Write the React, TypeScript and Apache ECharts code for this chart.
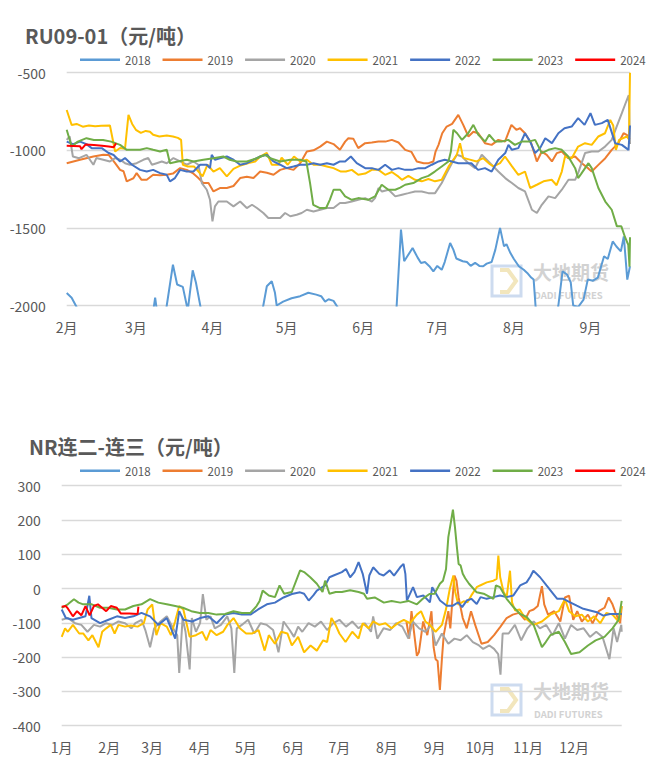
import React, { useEffect, useRef } from "react";
import * as echarts from "echarts";

const YEARS = ["2018", "2019", "2020", "2021", "2022", "2023", "2024"];
const COLORS = ["#5B9BD5", "#ED7D31", "#A5A5A5", "#FFC000", "#4472C4", "#70AD47", "#FF0000"];

// ---------- Top chart: RU09-01, x = days since 1 Feb ----------
const RU_TITLE = "RU09-01（元/吨）";
const RU_MONTH_DAYS = [0, 28, 59, 89, 120, 150, 181, 212];
const RU_MONTH_LABELS = ["2月", "3月", "4月", "5月", "6月", "7月", "8月", "9月"];
const RU_MIN = -2000, RU_MAX = -500, RU_STEP = 500, RU_DAYS = 228;

const RU_2018 = [[0,-1920],[2,-1950],[4,-2010],[6,-2150],[20,-2250],[34,-2150],[35.8,-1950],[37.5,-2150],[39.5,-2100],[40.5,-2000],[43,-1737],[44.7,-1865],[47,-1880],[49,-2030],[51,-1773],[52.3,-1852],[55,-2080],[58,-2250],[75,-2250],[79,-2050],[81,-1876],[83,-1844],[84.3,-1918],[85,-2000],[87.6,-1975],[91,-1953],[94.5,-1940],[97.8,-1918],[101,-1930],[103,-1940],[104.6,-1975],[106,-1960],[108,-1970],[109.6,-2010],[112,-2150],[130,-2250],[133.2,-2100],[135.3,-1511],[136.6,-1715],[138,-1680],[140,-1630],[142,-1690],[143.4,-1726],[145,-1720],[146.8,-1747],[148.4,-1780],[150,-1745],[151.8,-1770],[153,-1720],[155.2,-1597],[156.5,-1640],[157.7,-1697],[160.3,-1715],[162,-1720],[163.5,-1745],[165.3,-1725],[167,-1745],[168.6,-1747],[170,-1730],[172,-1720],[173.5,-1640],[175.4,-1500],[177,-1619],[178,-1605],[179.6,-1662],[181,-1700],[183,-1747],[185,-1770],[186.4,-1790],[188,-1820],[189,-1833],[189.8,-2010],[192,-2200],[197,-2200],[199,-2000],[200.7,-1780],[202.5,-1800],[204,-1850],[205,-2000],[207,-2010],[209.2,-1962],[210.9,-1833],[213,-1840],[215,-1820],[217.5,-1683],[219,-1700],[221,-1587],[222.5,-1620],[224.3,-1651],[225.5,-1555],[226.9,-1833],[228,-1747]];
const RU_2019 = [[0,-1083],[5.4,-1061],[10.8,-1040],[14.8,-1029],[17,-1030],[19.6,-1083],[21.6,-1126],[23,-1135],[24.3,-1200],[25.6,-1190],[27,-1180],[28.3,-1147],[30.3,-1190],[32.4,-1190],[35,-1158],[37.8,-1160],[40.5,-1158],[43,-1150],[45.9,-1115],[48.6,-1126],[51,-1147],[53.3,-1179],[55.3,-1211],[57.4,-1211],[59.4,-1265],[62,-1243],[64.8,-1243],[67.5,-1230],[70.2,-1179],[72.9,-1170],[75.6,-1179],[78.3,-1137],[81,-1145],[83.7,-1158],[86.4,-1126],[89,-1115],[91.8,-1126],[94.5,-1083],[97.2,-1008],[99.9,-1000],[102.6,-976],[105.3,-944],[108,-960],[110.6,-997],[112.7,-944],[114,-922],[116,-925],[118,-986],[120.8,-954],[123.5,-950],[126.2,-944],[129,-944],[131.6,-933],[134.3,-950],[137,-997],[139.5,-1010],[141.7,-1072],[144.5,-1083],[146.5,-1083],[148.4,-1072],[149.3,-1008],[150.5,-965],[152,-890],[153.8,-847],[156,-830],[158.5,-772],[160.5,-836],[162.6,-911],[164.6,-880],[166.6,-890],[169.3,-954],[172,-965],[174.7,-933],[177.4,-944],[180,-836],[182,-868],[183.5,-858],[185.5,-890],[188,-954],[190.3,-1072],[192.3,-1008],[194.3,-1029],[196.4,-1072],[198.4,-1018],[200.4,-1008],[203,-1051],[205.8,-1040],[208.5,-1083],[211,-1115],[212.5,-1137],[215.2,-1094],[218,-1051],[220.6,-997],[223.3,-954],[225.4,-890],[226.7,-900],[228,-930]];
const RU_2020 = [[0,-933],[1.2,-911],[2.5,-1040],[5,-1051],[8,-1029],[10.8,-1093],[12,-1050],[14.8,-1061],[17.5,-1072],[19.6,-1050],[21.6,-1061],[23.6,-1083],[25.6,-1093],[28.3,-1083],[31,-1061],[33,-1050],[34.5,-1093],[36.4,-1083],[38.5,-1072],[40.5,-1083],[43.2,-1050],[45.9,-1072],[48.6,-1093],[51.3,-1072],[53.3,-1093],[54.7,-1211],[56.7,-1254],[58,-1319],[59,-1458],[60,-1361],[61.4,-1330],[64.8,-1330],[67.5,-1361],[70.2,-1330],[72.9,-1372],[75,-1351],[77,-1372],[79.6,-1404],[81.6,-1436],[84,-1436],[86.4,-1436],[88.4,-1404],[90.5,-1425],[93.1,-1415],[95.1,-1404],[97.2,-1383],[99.9,-1394],[102.6,-1383],[105.3,-1372],[108,-1372],[110.6,-1340],[112.7,-1340],[115.4,-1330],[118,-1319],[120.8,-1308],[123.5,-1330],[124.8,-1308],[126.2,-1243],[127.6,-1265],[130.3,-1254],[133,-1297],[135.7,-1286],[138.3,-1276],[141,-1265],[143.7,-1265],[146.4,-1276],[149.1,-1276],[151.8,-1211],[153.8,-1147],[155.9,-1083],[157.9,-1029],[160,-1040],[162.6,-1083],[165.3,-1115],[168,-1029],[170.7,-1072],[172.7,-1104],[174.7,-1137],[177.5,-1179],[180.2,-1211],[182.8,-1243],[185.5,-1265],[188.3,-1383],[190.3,-1404],[192.3,-1351],[195,-1297],[197.7,-1308],[200.4,-1254],[203.1,-1190],[205.8,-1190],[207,-1147],[209.8,-1018],[212.5,-1008],[215.2,-1008],[217.9,-976],[220.6,-933],[222.6,-847],[224.7,-761],[226.7,-676],[227.5,-645],[228,-960]];
const RU_2021 = [[0,-740],[2,-837],[4,-830],[6.5,-848],[9,-840],[11.5,-845],[14,-842],[17.5,-840],[19.6,-1008],[21.6,-985],[23.6,-990],[25,-772],[26.5,-830],[28,-868],[30,-888],[32,-875],[33.7,-880],[35,-900],[37.5,-911],[40.5,-905],[43,-911],[45,-920],[46.3,-933],[47,-1093],[49,-1104],[51.5,-1104],[53.5,-1140],[55,-1168],[57,-1093],[59.4,-1137],[62,-1115],[64.8,-1168],[67.5,-1120],[70,-1100],[72,-1090],[74,-1081],[76.3,-1072],[78.3,-1040],[79.6,-1029],[81,-1016],[83,-1093],[85.7,-1093],[87,-1048],[89.5,-1093],[92,-1040],[94.5,-1072],[97.2,-1061],[99.9,-1093],[102.6,-1093],[105.3,-1104],[108,-1115],[111,-1137],[113,-1137],[115.4,-1126],[118,-1158],[120.8,-1150],[123.5,-1126],[126.2,-1126],[128.9,-1158],[131.6,-1140],[134.3,-1170],[135.7,-1190],[138.3,-1165],[141,-1190],[143.7,-1200],[146.4,-1185],[149.1,-1200],[151.8,-1190],[154.6,-1104],[157.9,-1029],[159.2,-954],[160.5,-1049],[163.2,-1060],[165.9,-1072],[168.6,-1051],[171.3,-1090],[172.7,-1104],[175.4,-1083],[177.4,-1040],[180.1,-1100],[182.8,-1158],[185.5,-1137],[187.6,-1243],[190.3,-1222],[193,-1200],[196.3,-1190],[198.3,-1225],[200.4,-1137],[201.7,-1040],[204.4,-1051],[207,-976],[209.8,-954],[212.5,-965],[215.2,-911],[217.9,-890],[220,-804],[221.2,-840],[222.3,-997],[223.6,-933],[226.7,-911],[227.6,-930],[228,-500]];
const RU_2022 = [[0,-944],[2.6,-960],[5.4,-944],[8,-960],[10.1,-986],[12.1,-986],[14.2,-986],[16.8,-1016],[19,-1030],[21.6,-1072],[23.6,-1050],[26.4,-1093],[29.7,-1126],[32.4,-1137],[35,-1126],[37.8,-1147],[40.5,-1158],[41.8,-1200],[43.8,-1179],[45.9,-1126],[48.6,-1137],[51.3,-1137],[54,-1093],[56.7,-1093],[58,-1115],[58.7,-1029],[60,-1061],[62,-1051],[64.8,-1040],[67.5,-1061],[70.2,-1093],[72.9,-1083],[75.6,-1061],[78.3,-1040],[81,-1029],[83.7,-1072],[86.4,-1093],[89,-1115],[91.8,-1104],[94.5,-1093],[97.2,-1093],[99.9,-1083],[102.6,-1093],[105.3,-1083],[108,-1093],[110.6,-1072],[112.7,-1072],[115,-1040],[117.4,-1083],[120.8,-1115],[123.5,-1115],[126.2,-1126],[128.9,-1093],[131.6,-1126],[134.3,-1115],[137,-1126],[139.7,-1126],[142.4,-1115],[145.1,-1115],[147.8,-1093],[150.5,-1072],[153,-1061],[155.9,-1072],[158.5,-1083],[161,-1083],[163.8,-1083],[166.5,-1126],[169.3,-1115],[172,-1137],[174.7,-1061],[177.5,-1018],[178.8,-965],[180.2,-997],[182.8,-986],[185.5,-890],[187.6,-944],[189.6,-1018],[191.6,-986],[193.7,-922],[196.4,-954],[199,-890],[201.5,-858],[204.4,-847],[207,-793],[209.6,-836],[212,-761],[213.8,-836],[216.6,-825],[219,-804],[222,-954],[224.7,-965],[227.4,-997],[228,-840]];
const RU_2023 = [[0,-868],[2,-976],[4.5,-944],[8,-922],[11,-933],[14.7,-933],[18,-944],[21.6,-965],[24.3,-997],[27,-997],[29.7,-997],[32.4,-986],[35,-997],[37.8,-1008],[40.5,-997],[41.8,-1083],[45,-1072],[48.6,-1061],[51.3,-1072],[55.3,-1061],[59.4,-1051],[63.4,-1040],[66,-1061],[68.8,-1072],[72.9,-1072],[76.9,-1051],[80.3,-1029],[82.4,-1051],[86.4,-1072],[90.5,-1061],[94.5,-1061],[97,-1072],[98.5,-1211],[99.8,-1351],[102.5,-1372],[105,-1372],[106.5,-1319],[108,-1254],[110.7,-1254],[112.7,-1297],[115.4,-1319],[118,-1308],[122,-1319],[124.8,-1297],[127.5,-1222],[130.2,-1254],[133,-1254],[135,-1240],[137,-1222],[140.3,-1211],[143.7,-1179],[146.4,-1165],[149,-1137],[151.8,-1104],[154.5,-1072],[155.5,-1008],[156.5,-868],[158,-890],[160,-933],[162.5,-890],[164.6,-836],[166.6,-900],[169.4,-944],[171,-900],[173.4,-944],[176,-944],[178.7,-933],[181.4,-965],[184.2,-944],[186.9,-944],[189.6,-933],[192.3,-1018],[195,-997],[197.7,-986],[200.4,-997],[203,-1040],[205.8,-1115],[207,-1179],[208.3,-1150],[211.2,-1083],[212.5,-1115],[215.2,-1243],[218,-1330],[220.6,-1383],[222.7,-1490],[224.5,-1490],[226,-1560],[227.3,-1610],[227.8,-1750],[228,-1560]];
const RU_2024 = [[0,-971],[2.5,-972],[5.4,-974],[6,-993],[7.7,-962],[11,-966],[14.3,-970],[17,-975],[19,-980],[20,-954]];

// ---------- Bottom chart: NR, x = days since 1 Jan ----------
const NR_TITLE = "NR连二-连三（元/吨）";
const NR_MONTH_DAYS = [0, 31, 59, 90, 120, 151, 181, 212, 243, 273, 304, 334];
const NR_MONTH_LABELS = ["1月", "2月", "3月", "4月", "5月", "6月", "7月", "8月", "9月", "10月", "11月", "12月"];
const NR_MIN = -400, NR_MAX = 300, NR_STEP = 100, NR_DAYS = 365;

const NR_2018: number[][] = [];
const NR_2019 = [[224.7,-96],[226.5,-146],[228,-66],[231.5,-196],[232.8,-186],[235.6,-96],[238.3,-136],[241,-66],[242.4,-171],[243.7,-206],[245,-211],[246.5,-296],[247.8,-206],[249,-136],[252,-66],[253.3,-116],[254.6,-36],[256,38],[257.3,23],[258.7,-26],[261.4,-86],[264,-116],[266.8,-66],[269.5,-106],[273.6,-161],[277.7,-156],[281.8,-136],[286,-111],[290,-86],[294,-76],[298,-71],[302,-91],[304.8,-66],[307.6,-61],[310.3,-51],[313,7],[314.5,-46],[317,-76],[321,-66],[325,-96],[328,-26],[330.7,-21],[333.4,-91],[336,-66],[339,-96],[343,-76],[346,-101],[350,-66],[353.8,-56],[356.5,-26],[359,-46],[361,-71],[364,-101],[365,-51]];
const NR_2020 = [[0,-91],[4,-86],[8.7,-101],[12.8,-106],[16.8,-126],[21,-106],[25,-111],[29,-101],[33,-106],[37,-96],[41.3,-101],[45.4,-116],[48,-101],[52,-91],[54.5,-121],[57.6,-171],[60.3,-116],[64.4,-96],[68.5,-81],[72.6,-116],[75.3,-136],[76.6,-246],[78.8,-86],[80.7,-126],[83.4,-236],[84.8,-86],[87.5,-126],[90.2,-101],[92,-16],[94.3,-91],[97,-81],[99.8,-116],[103.8,-106],[107.9,-81],[110.6,-116],[112.5,-246],[114.1,-116],[117.4,-106],[121.5,-91],[125.5,-131],[129.6,-101],[133.7,-106],[137.8,-121],[141.3,-186],[144.6,-96],[148.6,-121],[151.4,-141],[154.1,-111],[156.8,-126],[160.9,-101],[165,-111],[169,-96],[173,-121],[177,-101],[181,-91],[185.3,-111],[189.4,-96],[193.5,-116],[197.5,-101],[201.6,-126],[203,-81],[205.7,-146],[209.8,-116],[214,-121],[218,-101],[222,-111],[226,-146],[228.8,-96],[233,-116],[237,-126],[241,-106],[243.7,-166],[247.8,-131],[252,-161],[256,-146],[260,-151],[264,-136],[268,-156],[272,-166],[274.7,-176],[278.8,-166],[281.8,-176],[284.5,-191],[286,-251],[287.4,-131],[291.3,-131],[295.4,-106],[299.5,-151],[303.5,-116],[307.6,-96],[311.7,-116],[315.8,-106],[319.9,-136],[324,-101],[328,-146],[332,-106],[336,-121],[340.2,-116],[344.3,-141],[348.4,-126],[352.5,-141],[357,-206],[359.7,-116],[362,-156],[364.7,-106],[365,-126]];
const NR_2021 = [[0,-141],[2.2,-116],[4,-126],[7.3,-106],[11.4,-131],[14,-131],[17.4,-151],[20,-136],[24,-171],[26.4,-126],[29,-116],[32,-106],[34.5,-131],[37,-106],[41.3,-111],[45,-108],[49.5,-111],[53.5,-101],[56,-61],[59,-46],[61.7,-136],[64.4,-101],[68.5,-111],[71.2,-136],[73.9,-96],[76.6,-51],[79.3,-61],[83.4,-141],[87.5,-136],[91.6,-126],[94.3,-151],[97,-121],[101,-136],[105.2,-126],[108,-106],[112,-86],[116.1,-116],[120.2,-131],[124.3,-131],[128.3,-121],[132.3,-181],[135,-136],[139,-161],[143.1,-126],[147.1,-131],[150,-166],[154.1,-141],[158,-186],[162.2,-166],[166.3,-181],[170.4,-151],[173,-156],[175.8,-86],[178.5,-106],[181,-131],[185,-156],[189.4,-126],[193.5,-146],[196.2,-101],[200,-116],[203,-96],[207,-106],[211,-101],[215,-116],[219,-101],[223,-91],[227,-101],[231.5,-76],[234.2,-66],[237,-96],[240,-106],[243.7,-126],[247.8,-106],[250.5,-60],[253,0],[255.3,38],[256.5,-10],[258.5,-47],[262,-37],[264.5,-40],[267,-20],[270.5,4],[272.7,9],[277,18],[281.4,23],[283.5,28],[284.6,96],[285.8,33],[288,-10],[290,-25],[292.2,52],[293.5,-40],[295.5,-64],[298.5,-61],[302,-86],[307.6,-106],[313,-96],[318.5,-76],[324,-66],[328,-31],[330.7,-66],[334.8,-81],[339,-76],[343,-96],[347,-81],[351,-101],[355,-71],[359,-76],[363,-96],[365,-51]];
const NR_2022 = [[0,-61],[2.7,-86],[7.3,-91],[11.4,-86],[15.5,-81],[18,-21],[19.4,-86],[25,-101],[30.5,-91],[36,-81],[41.3,-86],[46.7,-81],[52,-71],[57.6,-81],[63,-106],[68.5,-86],[74,-146],[76.6,-66],[79.3,-91],[85,-96],[90.1,-86],[95.6,-81],[101,-101],[106.5,-76],[112,-71],[117.4,-76],[123,-76],[128,-61],[133.7,-46],[139,-41],[144.6,-26],[150,-16],[155.4,-11],[158,-15],[161,-35],[164,-20],[166.3,-6],[171.7,9],[174.5,33],[177.2,38],[182.6,48],[185.3,57],[188,33],[190.8,48],[193.5,77],[196.2,43],[199,-15],[200.5,38],[203,62],[207,43],[209.8,38],[213.8,53],[216.6,38],[220.6,62],[222.8,72],[224,43],[225,-35],[229,4],[231.5,-25],[235.7,-20],[240,-40],[241.5,4],[246.6,-35],[251,-50],[255,-50],[258.5,-40],[261,-54],[264,-35],[267,-30],[270.5,-45],[273,-25],[277,-30],[281.4,-25],[285.7,-20],[290,-25],[294.4,-20],[298.8,9],[303,18],[305.5,35],[307.4,52],[309.5,43],[311.8,33],[316,9],[320.5,-16],[323,-30],[327,-30],[331.4,-40],[335.7,-50],[340,-59],[344.4,-64],[348.8,-69],[353,-79],[357.4,-74],[361.8,-74],[365,-74]];
const NR_2023 = [[0,-56],[4,-46],[8,-31],[11,-41],[14,-46],[19.6,-46],[25,-56],[30.4,-56],[36,-61],[41.3,-61],[46.7,-51],[52,-46],[57.6,-31],[63,-41],[68.5,-46],[74,-51],[79,-56],[84.5,-66],[90,-71],[95.6,-71],[101,-76],[106.5,-74],[112,-66],[117.4,-71],[123,-71],[127,-51],[129,-36],[131,-6],[135,-20],[139,-25],[142,9],[145,-15],[150,-10],[155.4,53],[158,48],[162,33],[166.3,14],[170,-10],[171.7,23],[174.5,-15],[178.6,-10],[182.6,-10],[188,-5],[193.5,-10],[197,-15],[199,-30],[204,-26],[210,-41],[215,-36],[220.7,-41],[226,-36],[231.5,-46],[235,-31],[239.7,-16],[243,-15],[246.5,14],[248.5,23],[250.5,57],[252,150],[253.5,189],[255,230],[256.3,180],[257.6,120],[258.7,72],[260,67],[261.4,43],[263,30],[265.5,14],[270.5,-11],[275,-15],[281.4,-30],[283,9],[285.7,4],[290,-30],[294.4,-54],[298.8,-74],[303,-83],[307.6,-106],[313,-171],[315.5,-156],[318.5,-136],[324,-126],[328,-156],[332,-191],[337.5,-186],[343,-166],[348,-151],[353.8,-141],[359,-116],[363,-91],[365,-36]];
const NR_2024 = [[0,-53],[2.7,-51],[4,-58],[7.3,-81],[10,-66],[12.8,-78],[15.5,-51],[18.2,-78],[21,-51],[23.6,-46],[26.3,-56],[29,-66],[32,-51],[35.9,-56],[38.6,-73],[44,-73],[49.5,-74],[50,-53]];

const RU_DATA = [RU_2018, RU_2019, RU_2020, RU_2021, RU_2022, RU_2023, RU_2024];
const NR_DATA = [NR_2018, NR_2019, NR_2020, NR_2021, NR_2022, NR_2023, NR_2024];

const FONT = "'Microsoft YaHei', 'Noto Sans CJK SC', 'Noto Sans', sans-serif";
const TEXT_COLOR = "#595959";
const GRID_COLOR = "#d9d9d9";

function watermark(x: number, y: number) {
  return {
    type: "group",
    x,
    y,
    silent: true,
    z: 0,
    children: [
      { type: "rect", shape: { x: 0, y: 1, width: 29, height: 30 }, style: { fill: "none", stroke: "#cddbef", lineWidth: 3 } },
      { type: "polyline", shape: { points: [[8, 5], [16, 5], [24, 16], [16, 27], [8, 27]] }, style: { fill: "none", stroke: "#f2e6bd", lineWidth: 4 } },
      { type: "text", x: 41, y: -3, style: { text: "大地期货", fontSize: 19, lineHeight: 19, fontWeight: "bold", fill: "#d2d2d2", fontFamily: FONT } },
      { type: "text", x: 42, y: 25, style: { text: "DADI FUTURES", fontSize: 9.5, lineHeight: 10, fontWeight: "bold", fill: "#d2d2d2", fontFamily: FONT } },
    ],
  };
}

function makeXAxis(gridIndex: number, max: number, days: number[], labels: string[]) {
  return {
    gridIndex,
    type: "value",
    min: 0,
    max,
    axisLine: { show: false, onZero: false },
    axisTick: { show: false },
    splitLine: { show: false },
    axisLabel: {
      customValues: days,
      formatter: (v: number) => {
        const i = days.indexOf(v);
        return i >= 0 ? labels[i] : "";
      },
      fontSize: 14,
      color: TEXT_COLOR,
      fontFamily: FONT,
      margin: 14,
    },
  };
}

function makeYAxis(gridIndex: number, min: number, max: number, interval: number) {
  return {
    gridIndex,
    type: "value",
    min,
    max,
    interval,
    axisLine: { show: false },
    axisTick: { show: false },
    splitLine: { lineStyle: { color: GRID_COLOR, width: 1.3 } },
    axisLabel: {
      fontSize: 14,
      color: TEXT_COLOR,
      fontFamily: FONT,
      margin: 21,
      formatter: (v: number) => String(v),
    },
  };
}

function makeLegend(top: number) {
  return {
    data: YEARS,
    left: 80,
    top,
    width: 570,
    padding: 0,
    icon: "rect",
    itemWidth: 40,
    itemHeight: 2.5,
    itemGap: 12,
    textStyle: { fontSize: 11.5, color: TEXT_COLOR, fontFamily: FONT },
  };
}

export default function App() {
  const ref = useRef<HTMLDivElement>(null);

  useEffect(() => {
    if (!ref.current) return;
    const chart = echarts.init(ref.current, null, { renderer: "svg" });

    const series: any[] = [];
    YEARS.forEach((name, i) => {
      series.push({
        name,
        type: "line",
        xAxisIndex: 0,
        yAxisIndex: 0,
        data: RU_DATA[i],
        symbol: "none",
        showSymbol: false,
        lineStyle: { width: 2, color: COLORS[i] },
        itemStyle: { color: COLORS[i] },
        emphasis: { disabled: true },
        clip: true,
      });
    });
    YEARS.forEach((name, i) => {
      series.push({
        name,
        type: "line",
        xAxisIndex: 1,
        yAxisIndex: 1,
        data: NR_DATA[i],
        symbol: "none",
        showSymbol: false,
        lineStyle: { width: 2, color: COLORS[i] },
        itemStyle: { color: COLORS[i] },
        emphasis: { disabled: true },
        clip: true,
      });
    });

    chart.setOption({
      animation: false,
      backgroundColor: "#ffffff",
      textStyle: { fontFamily: FONT },
      title: [
        { text: RU_TITLE, left: 20, top: 20, textStyle: { fontSize: 20, fontWeight: "bold", color: TEXT_COLOR, fontFamily: FONT } },
        { text: NR_TITLE, left: 24, top: 431, textStyle: { fontSize: 20, fontWeight: "bold", color: TEXT_COLOR, fontFamily: FONT } },
      ],
      legend: [makeLegend(54), makeLegend(465)],
      grid: [
        { left: 66.7, right: 20, top: 72.7, height: 232.8, containLabel: false },
        { left: 61.7, right: 28.3, top: 485.7, height: 240, containLabel: false },
      ],
      xAxis: [
        makeXAxis(0, RU_DAYS, RU_MONTH_DAYS, RU_MONTH_LABELS),
        makeXAxis(1, NR_DAYS, NR_MONTH_DAYS, NR_MONTH_LABELS),
      ],
      yAxis: [makeYAxis(0, RU_MIN, RU_MAX, RU_STEP), makeYAxis(1, NR_MIN, NR_MAX, NR_STEP)],
      graphic: [watermark(492, 265), watermark(492, 684)],
      series,
    });

    return () => chart.dispose();
  }, []);

  return (
    <div
      ref={ref}
      style={{ position: "absolute", left: 0, top: 0, width: 650, height: 767, background: "#fff" }}
    />
  );
}
